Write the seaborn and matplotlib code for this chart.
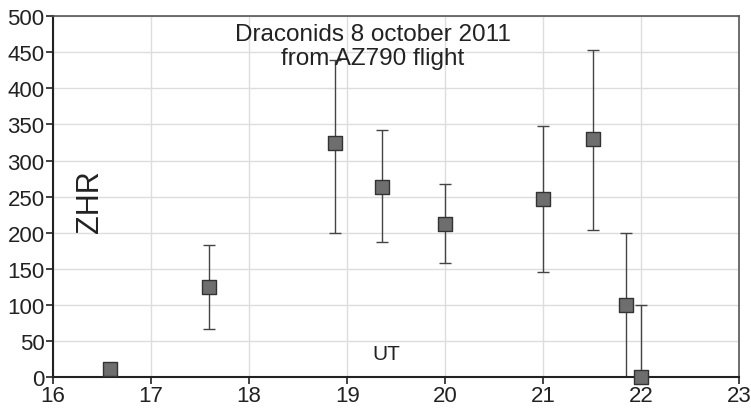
import numpy as np
import pandas as pd
import matplotlib
matplotlib.use("Agg")
import matplotlib.pyplot as plt
import seaborn as sns

# Draconids 2011 ZHR values
ut = [16.58, 17.59, 18.88, 19.35, 20.0, 21.0, 21.51, 21.84, 22.0]
zhr = [11, 125, 324, 264, 212, 247, 330, 100, 0]
zhr_low = [0, 66, 200, 187, 158, 146, 204, 0, 0]
zhr_high = [18, 183, 440, 342, 268, 348, 453, 200, 100]

df = pd.DataFrame({"ut": ut, "zhr": zhr, "low": zhr_low, "high": zhr_high})

sns.set_style("white")
plt.rcParams["font.family"] = ["Liberation Sans", "DejaVu Sans"]

fig = plt.figure(figsize=(7.51, 4.10), dpi=100)
ax = fig.add_axes([0.0706, 0.078, 0.914, 0.880])

# error bars
ax.errorbar(df["ut"], df["zhr"],
            yerr=[df["zhr"] - df["low"], df["high"] - df["zhr"]],
            fmt="none", ecolor="#444444", elinewidth=1, capsize=4, capthick=1, zorder=2)
sns.scatterplot(x="ut", y="zhr", data=df, marker="s", s=110, color="#6e6e6e",
                edgecolor="#333333", linewidth=1, ax=ax, zorder=3, clip_on=False)

ax.set_xlim(16, 23)
ax.set_ylim(0, 500)
ax.set_xticks(range(16, 24))
ax.set_yticks(range(0, 501, 50))
ax.grid(True, color="#dddddd", linewidth=1)
ax.set_axisbelow(True)
ax.set_xlabel("")
ax.set_ylabel("")
ax.tick_params(axis="both", labelsize=16, length=5, width=1.2, direction="out",
               colors="#222222", bottom=True, left=True, pad=1)

for side in ["top", "right"]:
    ax.spines[side].set_color("#555555")
    ax.spines[side].set_linewidth(1.2)
for side in ["left", "bottom"]:
    ax.spines[side].set_color("#222222")
    ax.spines[side].set_linewidth(1.5)

ax.text(19.26, 459, "Draconids 8 october 2011\nfrom AZ790 flight", ha="center", va="center",
        fontsize=17.5, color="#222222", linespacing=1.15)
ax.text(16.38, 245, "ZHR", rotation=90, ha="center", va="center", fontsize=22, color="#222222")
ax.text(19.4, 32, "UT", ha="center", va="center", fontsize=15, color="#222222")

fig.savefig("out.png", dpi=100)
